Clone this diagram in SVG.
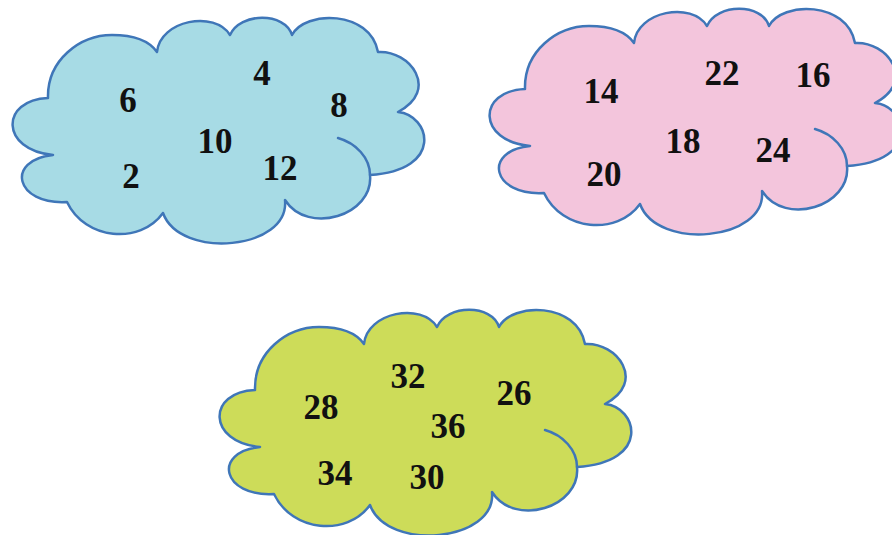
<svg xmlns="http://www.w3.org/2000/svg" width="892" height="535" viewBox="0 0 892 535">
<style>
.cl{stroke:#3f76b8;stroke-width:2.5;stroke-linejoin:round;stroke-linecap:round}
.in{fill:none;stroke:#3f76b8;stroke-width:2.5;stroke-linecap:round}
.t{font-family:"Liberation Serif","Times New Roman",serif;font-weight:bold;font-size:35px;fill:#111;text-anchor:middle}
</style>
<defs>
<path id="cloud" d="M48,98 C47,60 80,35 112,35 C135,35 150,42 157,52 C160,20 215,10 230,35 C240,12 285,12 292,35 C305,10 370,10 378,52 C410,50 440,90 398,112 C430,115 445,170 370,175 C374,215 308,236 285,200 C290,250 180,260 163,213 C140,245 85,240 67,202 C15,205 5,160 53,155 C0,150 0,100 48,98 Z"/>
<path id="inner" d="M338,138 C356,143 370,158 370,175"/>
</defs>
<rect width="892" height="535" fill="#fff"/>
<g id="cloud-blue">
<use href="#cloud" class="cl" fill="#a7dbe5"/>
<use href="#inner" class="in"/>
<text class="t" x="262" y="85">4</text>
<text class="t" x="128" y="112">6</text>
<text class="t" x="339" y="117">8</text>
<text class="t" x="215" y="153">10</text>
<text class="t" x="280" y="180">12</text>
<text class="t" x="131" y="188">2</text>
</g>
<g id="cloud-pink">
<g transform="translate(477,-9)">
<use href="#cloud" class="cl" fill="#f3c5dc"/>
<use href="#inner" class="in"/>
</g>
<text class="t" x="601" y="103">14</text>
<text class="t" x="722" y="85">22</text>
<text class="t" x="813" y="87">16</text>
<text class="t" x="683" y="153">18</text>
<text class="t" x="773" y="162">24</text>
<text class="t" x="604" y="186">20</text>
</g>
<g id="cloud-green">
<g transform="translate(207,292)">
<use href="#cloud" class="cl" fill="#cddc59"/>
<use href="#inner" class="in"/>
</g>
<text class="t" x="408" y="388">32</text>
<text class="t" x="321" y="419">28</text>
<text class="t" x="514" y="405">26</text>
<text class="t" x="448" y="438">36</text>
<text class="t" x="335" y="485">34</text>
<text class="t" x="427" y="489">30</text>
</g>
</svg>
